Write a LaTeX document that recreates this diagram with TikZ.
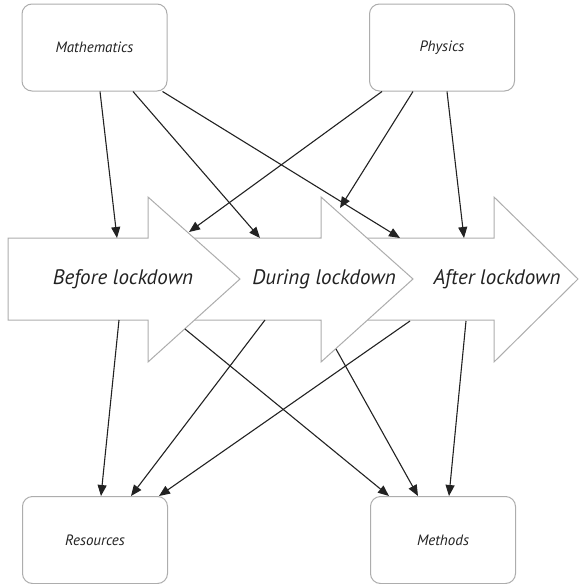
\documentclass[tikz,border=0pt]{standalone}
\usepackage{fontspec}
\setmainfont{PT Sans}
\usepackage{tikz}
\usetikzlibrary{
  arrows.meta,
  positioning,
  calc
}
\usepackage{xcolor}
\definecolor{boxgray}{HTML}{ADADAD}
\definecolor{linegray}{HTML}{222222}
\definecolor{textgray}{HTML}{222222}
\tikzset{
  subject/.style={
    rectangle,
    rounded corners=10pt,
    draw=boxgray,
    line width=1pt,
    fill=white,
    minimum width=145pt,
    minimum height=87pt,
    text=textgray,
    font=\fontsize{15}{17}\selectfont\itshape
  },
  phase/.style={
    draw=boxgray,
    line width=1pt,
    fill=white
  },
  phaselabel/.style={
    text=textgray,
    font=\fontsize{21}{25}\selectfont\itshape,
    inner sep=0pt
  },
  link/.style={
    -{Triangle[length=11pt,width=9pt]},
    line width=1.1pt,
    draw=linegray
  }
}

\begin{document}
\begin{tikzpicture}[x=1pt,y=-1pt]
\useasboundingbox (0,0) rectangle (579,584);

% subjects and outcomes
\node[subject] (math) at (94.5,47.5) {Mathematics};
\node[subject] (phys) at (442,47.5) {Physics};
\node[subject] (res) at (95,540) {Resources};
\node[subject] (meth) at (443,540) {Methods};

% phase arrows, back to front
\draw[phase] (320,238) -- (494,238) -- (494,197) -- (578,279) -- (494,362) -- (494,320) -- (320,320) -- cycle;
\draw[phase] (150,238) -- (321,238) -- (321,197) -- (413,279) -- (321,362) -- (321,320) -- (150,320) -- cycle;
\draw[phase] (8,238) -- (148,238) -- (148,197) -- (240,279) -- (148,362) -- (148,320) -- (8,320) -- cycle;
\node[phaselabel] (before) at (123,279) {Before lockdown};
\node[phaselabel] (during) at (324,279) {During lockdown};
\node[phaselabel] (after) at (497,279) {After lockdown};

% points on the phase arrows
\coordinate (bIn1) at (117,238);
\coordinate (bIn2) at (189,232);
\coordinate (dIn1) at (260,238);
\coordinate (dIn2) at (340,208);
\coordinate (aIn1) at (400,238);
\coordinate (aIn2) at (464,238);
\coordinate (bOut1) at (119,320);
\coordinate (bOut2) at (185,329);
\coordinate (dOut1) at (265,320);
\coordinate (dOut2) at (336,349);
\coordinate (aOut1) at (410,321);
\coordinate (aOut2) at (466,321);

% into the phases
\draw[link] ([xshift=5.5pt]math.south) -- (bIn1);
\draw[link] ([xshift=38.5pt]math.south) -- (dIn1);
\draw[link] ([xshift=-5pt]math.south east) -- (aIn1);
\draw[link] ([xshift=-60pt]phys.south) -- (bIn2);
\draw[link] ([xshift=-29pt]phys.south) -- (dIn2);
\draw[link] ([xshift=5pt]phys.south) -- (aIn2);

% out of the phases
\draw[link] (bOut1) -- ([xshift=6pt]res.north);
\draw[link] (dOut1) -- ([xshift=36pt]res.north);
\draw[link] (aOut1) -- ([xshift=64pt]res.north);
\draw[link] (bOut2) -- ([xshift=-54pt]meth.north);
\draw[link] (dOut2) -- ([xshift=-25pt]meth.north);
\draw[link] (aOut2) -- ([xshift=6pt]meth.north);
\end{tikzpicture}
\end{document}
